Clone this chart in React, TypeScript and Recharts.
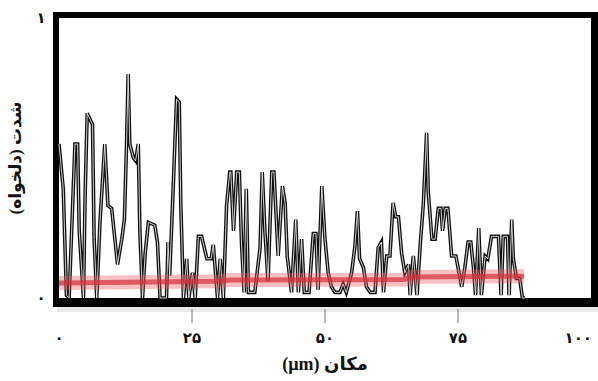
import React from "react";
import { LineChart, Line, XAxis, YAxis, ReferenceArea, Label } from "recharts";

// profile position (µm) and intensity
const positions = [
  0, 0.8, 1.4, 1.9, 3.0, 3.5, 3.8, 4.6, 4.9, 5.3, 6.3, 6.6, 7.1, 7.7, 8.6, 9.2, 9.9, 11.0, 11.8, 12.3,
  12.7, 13.0, 13.3, 14.0, 14.4, 14.9, 15.2, 15.7, 16.2, 16.8, 18.0, 18.5, 19.0, 20.2, 20.5, 20.8, 21.5,
  22.1, 22.6, 22.9, 23.4, 24.0, 24.4, 25.1, 25.6, 26.2, 26.8, 27.8, 28.6, 29.0, 29.8, 30.3, 30.9, 31.5,
  32.1, 32.3, 32.8, 33.4, 33.9, 34.3, 34.8, 35.2, 35.6, 36.8, 37.8, 38.2, 38.7, 39.3, 40.0, 40.4, 41.2,
  42.0, 42.5, 42.9, 43.7, 44.5, 45.0, 45.6, 46.1, 47.0, 47.8, 48.3, 48.7, 49.4, 50.0, 50.6, 51.2, 51.9,
  52.8, 53.4, 54.0, 55.0, 55.6, 56.1, 56.5, 57.2, 57.8, 58.5, 59.4, 60.0, 60.6, 61.0, 61.6, 62.2, 62.8,
  63.3, 63.8, 64.4, 65.0, 65.7, 66.0, 66.6, 67.3, 67.9, 68.5, 69.1, 69.4, 70.1, 70.7, 71.3, 71.8, 72.1,
  72.6, 73.1, 73.8, 74.6, 75.2, 75.7, 76.3, 76.9, 77.4, 77.9, 78.3, 78.9, 79.4, 80.1, 80.6, 81.3, 82.6,
  83.1, 83.5, 84.3, 84.6, 85.1, 85.4, 86.0, 86.6, 87.1, 87.6,
];
const intensity = [
  0.55, 0.39, 0.01, 0.0, 0.55, 0.55, 0.24, 0.0, 0.36, 0.66, 0.62, 0.21, 0.0, 0.27, 0.55, 0.33, 0.32, 0.12, 0.21, 0.28,
  0.55, 0.8, 0.55, 0.5, 0.49, 0.55, 0.24, 0.0, 0.16, 0.27, 0.26, 0.2, 0.0, 0.0, 0.2, 0.08, 0.41,
  0.71, 0.7, 0.33, 0.0, 0.14, 0.0, 0.09, 0.0, 0.22, 0.22, 0.14, 0.14, 0.19, 0.0, 0.14, 0.0, 0.33,
  0.45, 0.45, 0.24, 0.45, 0.45, 0.2, 0.02, 0.39, 0.02, 0.02, 0.18, 0.45, 0.24, 0.06, 0.45, 0.45, 0.15,
  0.4, 0.34, 0.15, 0.02, 0.28, 0.02, 0.21, 0.02, 0.02, 0.23, 0.23, 0.03, 0.4, 0.21, 0.09, 0.04, 0.02,
  0.02, 0.05, 0.02, 0.09, 0.18, 0.31, 0.14, 0.11, 0.04, 0.02, 0.02, 0.18, 0.2, 0.02, 0.15, 0.15, 0.34,
  0.29, 0.29, 0.16, 0.09, 0.12, 0.01, 0.15, 0.01, 0.19, 0.34, 0.59, 0.38, 0.21, 0.21, 0.32, 0.32, 0.24,
  0.32, 0.32, 0.15, 0.15, 0.09, 0.04, 0.11, 0.2, 0.2, 0.11, 0.01, 0.25, 0.01, 0.15, 0.14, 0.22, 0.22,
  0.01, 0.22, 0.22, 0.01, 0.28, 0.14, 0.07, 0.07, 0.0, 0.0,
];

// red background level
const baselineX = [0, 30, 32, 65, 66, 87.4];
const baselineY = [0.054, 0.06, 0.064, 0.066, 0.075, 0.078];

const xTicks = [0, 25, 50, 75, 100];
const xTickLabels = ["۰", "۲۵", "۵۰", "۷۵", "۱۰۰"];
const yTicks = [0, 1];
const yTickLabels = ["۰", "۱"];

const FONT = "'Liberation Serif', 'DejaVu Sans', serif";

const profile = positions.map((x, i) => ({ x, v: intensity[i] }));
const baseline = baselineX.map((x, i) => ({ x, v: baselineY[i] }));

function XTick(props: any) {
  const { x, y, payload } = props;
  const i = xTicks.indexOf(payload.value);
  const inner = payload.value !== 0 && payload.value !== 100;
  const last = payload.value === 100;
  return (
    <g>
      {inner && <line x1={x} x2={x} y1={y + 11} y2={y + 25} stroke="#777" strokeWidth={1} />}
      <text
        x={last ? x + 6 : x}
        y={y + 45}
        textAnchor={last ? "end" : "middle"}
        fontFamily={FONT}
        fontWeight="bold"
        fontSize={15}
        fill="#111"
      >
        {xTickLabels[i]}
      </text>
    </g>
  );
}

function YTick(props: any) {
  const { y, payload } = props;
  const i = yTicks.indexOf(payload.value);
  return (
    <text x={41} y={y + 5} textAnchor="middle" fontFamily={FONT} fontWeight="bold" fontSize={15} fill="#111">
      {yTickLabels[i]}
    </text>
  );
}

// thick scanned-looking frame around the plot
function Frame(props: any) {
  const { x, y, width, height } = props;
  const l = x - 6, t = y - 6, r = x + width + 7, b = y + height + 9;
  const d =
    `M${l},${t}H${r}V${b}H${l}Z ` +
    `M${x},${y}V${y + height}H${x + width}V${y}Z`;
  return (
    <g>
      <rect x={l + 4} y={b} width={r - l - 4} height={5} fill="#e9e9e9" />
      <path d={d} fill="#000" fillRule="evenodd" />
    </g>
  );
}

export default function App() {
  return (
    <>
      <style>{"body{margin:0}"}</style>
      <LineChart width={598} height={381} margin={{ top: 18, right: 7, left: 0, bottom: 0 }}>
        <XAxis
          type="number"
          dataKey="x"
          domain={[0, 100]}
          ticks={xTicks}
          tick={<XTick />}
          tickLine={false}
          axisLine={false}
          tickSize={0}
          tickMargin={0}
          height={83}
          allowDuplicatedCategory={false}
        >
          <Label
            content={(p: any) => {
              const vb = p.viewBox;
              return (
                <text x={vb.x + vb.width / 2} y={vb.y + 72} textAnchor="middle" direction="rtl" fontFamily={FONT} fontWeight="bold" fontSize={18} fill="#111">
                  مکان (µm)
                </text>
              );
            }}
          />
        </XAxis>
        <YAxis
          type="number"
          domain={[0, 1]}
          ticks={yTicks}
          tick={<YTick />}
          tickLine={false}
          axisLine={false}
          width={59}
        >
          <Label
            content={(p: any) => {
              const vb = p.viewBox;
              const cy = vb.y + vb.height / 2;
              return (
                <text x={15} y={cy} transform={`rotate(-90, 15, ${cy})`} textAnchor="middle" direction="rtl" dominantBaseline="central" fontFamily={FONT} fontWeight="bold" fontSize={17} fill="#111">
                  شدت (دلخواه)
                </text>
              );
            }}
          />
        </YAxis>
        <Line data={profile} dataKey="v" type="linear" stroke="#111" strokeWidth={3.6} dot={false} isAnimationActive={false} />
        <Line data={profile} dataKey="v" type="linear" stroke="#fff" strokeWidth={0.8} dot={false} isAnimationActive={false} />
        <Line data={baseline} dataKey="v" type="linear" stroke="rgba(232,90,98,0.38)" strokeWidth={14} dot={false} isAnimationActive={false} />
        <Line data={baseline} dataKey="v" type="linear" stroke="rgba(214,45,55,0.7)" strokeWidth={5} dot={false} isAnimationActive={false} />
        <ReferenceArea x1={0} x2={100} y1={0} y2={1} shape={<Frame />} />
      </LineChart>
    </>
  );
}
